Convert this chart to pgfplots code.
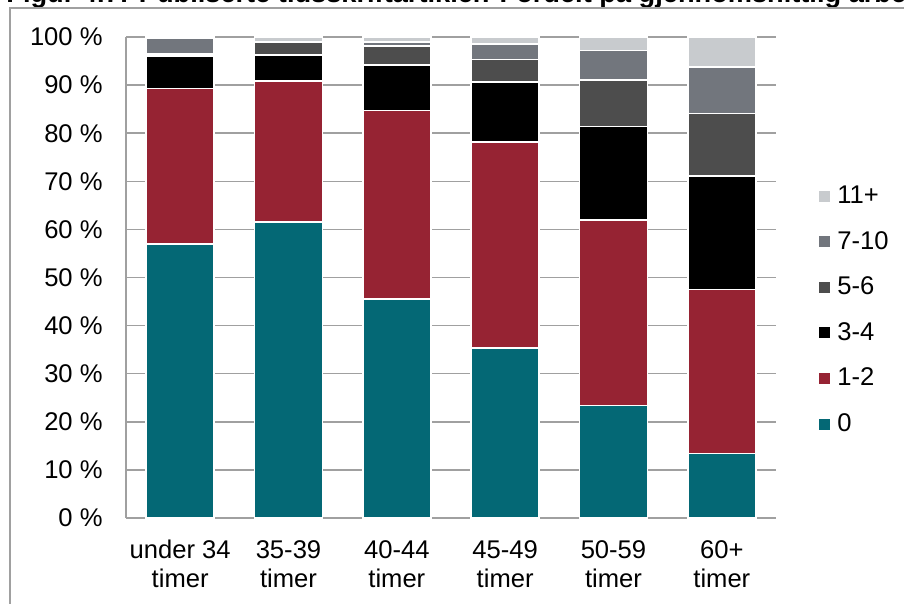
\documentclass[border=0pt]{standalone}
\usepackage{fontspec}
\setmainfont{Liberation Sans}
\usepackage{pgfplots}
\usepackage{pgfplotstable}
\pgfplotsset{compat=1.18}

\definecolor{cZero}{RGB}{4,104,117}
\definecolor{cOneTwo}{RGB}{150,35,51}
\definecolor{cThreeFour}{RGB}{0,0,0}
\definecolor{cFiveSix}{RGB}{77,77,77}
\definecolor{cSevenTen}{RGB}{114,118,125}
\definecolor{cElevenPlus}{RGB}{200,203,206}
\definecolor{gridgray}{RGB}{160,160,160}

% share of articles (%) per weekly working hours group
\pgfplotstableread{
x  zero  onetwo threefour fivesix seventen elevenplus
0  57.0  32.3   6.7       0.5     3.3      0.2
1  61.6  29.3   5.3       2.7     0.2      0.9
2  45.5  39.2   9.5       3.9     0.9      1.0
3  35.4  42.8   12.4      4.7     3.2      1.5
4  23.4  38.6   19.4      9.6     6.2      2.8
5  13.4  34.1   23.6      13.0    9.6      6.3
}\datatable

\pgfplotsset{squarelegend/.style={legend image code/.code={\fill[##1,draw=none] (0bp,-2.75bp) rectangle (5.5bp,2.75bp);}}}

\begin{document}
\begin{tikzpicture}[font=\fontsize{12.8bp}{14.5bp}\selectfont]
\useasboundingbox (0,0) rectangle (452bp,302bp);
\clip (0,0) rectangle (452bp,302bp);
\node[anchor=base west, inner sep=0pt, font=\fontsize{13.6bp}{15bp}\selectfont\bfseries] at (3bp,300.6bp)
  {Figur 4.7: Publiserte tidsskriftartikler. Fordelt på gjennomsnittlig arbeidstid};
\draw[gridgray, line width=0.75bp] (5bp,-2bp) -- (5bp,298bp) -- (460bp,298bp);
\begin{axis}[
  at={(63bp,43bp)}, anchor=south west,
  scale only axis, width=325bp, height=240.5bp,
  ybar stacked, bar width=34bp,
  xmin=-0.5, xmax=5.5, ymin=0, ymax=100,
  xtick={0,1,2,3,4,5},
  xticklabels={{under 34\\timer},{35-39\\timer},{40-44\\timer},{45-49\\timer},{50-59\\timer},{60+\\timer}},
  xticklabel style={align=center, inner sep=0pt, anchor=north, yshift=-11bp},
  ytick={0,10,...,100},
  yticklabels={0 \%,10 \%,20 \%,30 \%,40 \%,50 \%,60 \%,70 \%,80 \%,90 \%,100 \%},
  yticklabel style={anchor=east, inner sep=0pt, xshift=-11.5bp},
  major tick length=0pt, tick style={draw=none},
  ymajorgrids, grid style={gridgray, line width=0.75bp},
  axis x line*=bottom, axis y line*=left,
  axis line style={gridgray, line width=0.75bp, -},
  every axis plot/.append style={draw=white, line width=0.8bp},
  every axis plot post/.append style={squarelegend},
  clip=false,
  reverse legend,
  legend style={at={(1.0666,0.7168)}, anchor=north west, draw=none, fill=none,
    inner sep=0pt, outer sep=0pt, row sep=0pt, column sep=0pt,
    nodes={inner sep=0pt, outer sep=0pt, anchor=west, minimum height=22.8bp},
    /tikz/every odd column/.append style={column sep=3.5bp}},
]
\addplot[fill=cZero] table[x=x, y=zero] {\datatable};
\addplot[fill=cOneTwo] table[x=x, y=onetwo] {\datatable};
\addplot[fill=cThreeFour] table[x=x, y=threefour] {\datatable};
\addplot[fill=cFiveSix] table[x=x, y=fivesix] {\datatable};
\addplot[fill=cSevenTen] table[x=x, y=seventen] {\datatable};
\addplot[fill=cElevenPlus] table[x=x, y=elevenplus] {\datatable};
\legend{0,1-2,3-4,5-6,7-10,11+}
\draw[gridgray, line width=0.75bp] (rel axis cs:0,0) -- (rel axis cs:1,0);
\end{axis}
\end{tikzpicture}
\end{document}
